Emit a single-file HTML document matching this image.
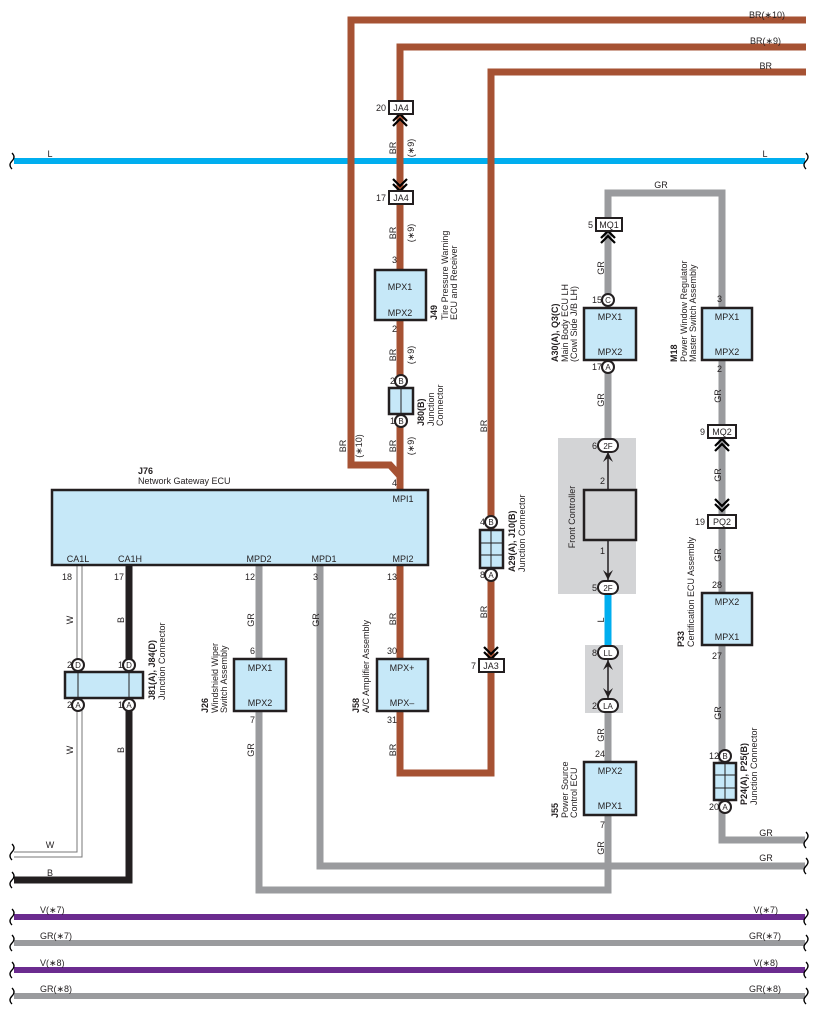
<!DOCTYPE html><html><head><style>body{margin:0;background:#fff}svg{display:block;font-family:"Liberation Sans",sans-serif}</style></head><body>
<svg width="817" height="1019" viewBox="0 0 817 1019" xmlns="http://www.w3.org/2000/svg">
<defs>
<g id="chev"><path d="M-7,4 L0,-3 L7,4 M-7,9 L0,2 L7,9" fill="none" stroke="#000" stroke-width="2.2"/></g>
</defs>
<!-- grey backgrounds -->
<rect x="558" y="438" width="78" height="156" fill="#d3d4d6"/>
<rect x="585" y="645" width="38" height="68" fill="#d3d4d6"/>
<!-- bottom buses -->
<g stroke-width="6" fill="none">
<line x1="14" y1="917" x2="805" y2="917" stroke="#6b2b8f"/>
<line x1="14" y1="943" x2="805" y2="943" stroke="#9a9b9e"/>
<line x1="14" y1="970" x2="805" y2="970" stroke="#6b2b8f"/>
<line x1="14" y1="996" x2="805" y2="996" stroke="#9a9b9e"/>
<line x1="14" y1="161" x2="805" y2="161" stroke="#00aeef"/>
</g>
<!-- GR wires -->
<g stroke="#9a9b9e" stroke-width="7" fill="none">
<path d="M259,565 V890 H608 V816"/>
<path d="M320,565 V866 H805"/>
<path d="M608,360 V445 M608,705 V762"/>
<path d="M608,224 V193 H722 V840 H805"/>
<path d="M608,224 V300"/>
</g>
<line x1="608" y1="594" x2="608" y2="652" stroke="#00aeef" stroke-width="7"/>
<!-- BR wires -->
<g stroke="#a65233" stroke-width="7" fill="none" stroke-linejoin="miter">
<path d="M806,20 H351 V465 H390 L400,476 V490"/>
<path d="M806,47 H400 V490"/>
<path d="M806,72 H491 V773 H400 V565"/>
</g>
<!-- W / B -->
<path d="M77,565 V852 H14 M82,565 V857 H14" stroke="#777" stroke-width="1" fill="none"/>
<path d="M129,565 V880 H14" stroke="#231f20" stroke-width="7" fill="none"/>
<!-- left/right break marks -->
<g stroke="#000" stroke-width="1.3" fill="none">
<path d="M12,153 q4,4 0,8 q-4,4 0,8"/><path d="M806,153 q4,4 0,8 q-4,4 0,8"/>
<path d="M12,844 q4,4 0,8 q-4,4 0,8"/><path d="M12,872 q4,4 0,8 q-4,4 0,8"/>
<path d="M806,832 q4,4 0,8 q-4,4 0,8"/><path d="M806,858 q4,4 0,8 q-4,4 0,8"/>
<path d="M12,909 q4,4 0,8 q-4,4 0,8"/><path d="M806,909 q4,4 0,8 q-4,4 0,8"/>
<path d="M12,935 q4,4 0,8 q-4,4 0,8"/><path d="M806,935 q4,4 0,8 q-4,4 0,8"/>
<path d="M12,962 q4,4 0,8 q-4,4 0,8"/><path d="M806,962 q4,4 0,8 q-4,4 0,8"/>
<path d="M12,988 q4,4 0,8 q-4,4 0,8"/><path d="M806,988 q4,4 0,8 q-4,4 0,8"/>
</g>
<!-- boxes -->
<g fill="#c6e8f8" stroke="#231f20" stroke-width="2.5">
<rect x="52" y="490" width="376" height="75"/>
<rect x="375" y="270" width="51" height="50"/>
<rect x="234" y="659" width="52" height="52"/>
<rect x="377" y="659" width="51" height="52"/>
<rect x="584" y="308" width="52" height="52"/>
<rect x="702" y="308" width="50" height="52"/>
<rect x="702" y="593" width="50" height="52"/>
<rect x="584" y="762" width="52" height="53"/>
<rect x="65" y="672" width="78" height="26"/>
<rect x="389" y="388" width="24" height="26"/>
<rect x="480" y="530" width="23" height="38"/>
<rect x="714" y="763" width="22" height="37"/>
</g>
<rect x="584" y="490" width="52" height="50" fill="#d3d4d6" stroke="#231f20" stroke-width="2.5"/>
<g stroke="#231f20" stroke-width="1" fill="none">
<line x1="78" y1="672" x2="78" y2="698"/><line x1="129" y1="672" x2="129" y2="698"/>
<line x1="401" y1="388" x2="401" y2="414"/>
<path d="M491,530 V568 M480,543 H503 M480,555 H503"/>
<path d="M725,763 V800 M714,775 H736 M714,788 H736"/>
</g>
<!-- arrows front controller -->
<g stroke="#231f20" stroke-width="1.5">
<line x1="608" y1="452" x2="608" y2="490"/><line x1="608" y1="540" x2="608" y2="580"/>
<line x1="608" y1="660" x2="608" y2="698"/></g>
<g fill="#231f20">
<path d="M603,462 L608,452 L613,462 L608,458Z"/><path d="M603,570 L608,580 L613,570 L608,574Z"/>
<path d="M603,670 L608,660 L613,670 L608,666Z"/><path d="M603,688 L608,698 L613,688 L608,692Z"/>
</g>
<!-- chevrons -->
<use href="#chev" x="400" y="117"/>
<g transform="translate(400,188) scale(1,-1)"><use href="#chev"/></g>
<use href="#chev" x="608" y="234"/>
<use href="#chev" x="722" y="442"/>
<g transform="translate(722,508) scale(1,-1)"><use href="#chev"/></g>
<g transform="translate(491,656) scale(1,-1)"><use href="#chev"/></g>
<!-- rect connectors -->
<g fill="#fff" stroke="#231f20" stroke-width="2">
<rect x="389" y="101" width="24" height="13"/><rect x="389" y="191" width="24" height="13"/>
<rect x="596" y="218" width="26" height="13"/><rect x="708" y="425" width="28" height="13"/>
<rect x="708" y="515" width="28" height="13"/><rect x="479" y="659" width="25" height="13"/>
<circle cx="78" cy="665" r="6"/><circle cx="129" cy="665" r="6"/><circle cx="78" cy="705" r="6"/><circle cx="129" cy="705" r="6"/>
<circle cx="401" cy="381" r="6"/><circle cx="401" cy="421" r="6"/>
<circle cx="491" cy="522" r="6"/><circle cx="491" cy="575" r="6"/>
<circle cx="608" cy="300" r="6"/><circle cx="608" cy="367" r="6"/>
<circle cx="725" cy="756" r="6"/><circle cx="725" cy="807" r="6"/>
<rect x="598" y="439" width="20" height="13" rx="6.5"/><rect x="598" y="581" width="20" height="13" rx="6.5"/>
<rect x="598" y="646" width="20" height="13" rx="6.5"/><rect x="598" y="699" width="20" height="13" rx="6.5"/>
</g>
<g font-size="9" fill="#231f20" text-anchor="middle">
<text x="401" y="111">JA4</text><text x="401" y="201">JA4</text><text x="609" y="228">MQ1</text>
<text x="722" y="435">MQ2</text><text x="722" y="525">PQ2</text><text x="491" y="669">JA3</text>
<g font-size="8"><text x="78" y="668">D</text><text x="129" y="668">D</text><text x="78" y="708">A</text><text x="129" y="708">A</text>
<text x="401" y="384">B</text><text x="401" y="424">B</text><text x="491" y="525">B</text><text x="491" y="578">A</text>
<text x="608" y="303">C</text><text x="608" y="370">A</text><text x="725" y="759">B</text><text x="725" y="810">A</text>
<text x="608" y="449">2F</text><text x="608" y="591">2F</text><text x="608" y="656">LL</text><text x="608" y="709">LA</text></g>
<text x="400" y="290">MPX1</text><text x="400" y="316">MPX2</text>
<text x="260" y="671">MPX1</text><text x="260" y="706">MPX2</text>
<text x="402" y="671">MPX+</text><text x="402" y="706">MPX–</text>
<text x="610" y="320">MPX1</text><text x="610" y="355">MPX2</text>
<text x="727" y="320">MPX1</text><text x="727" y="355">MPX2</text>
<text x="727" y="605">MPX2</text><text x="727" y="640">MPX1</text>
<text x="610" y="774">MPX2</text><text x="610" y="809">MPX1</text>
<text x="403" y="502">MPI1</text><text x="403" y="562">MPI2</text>
<text x="78" y="562">CA1L</text><text x="130" y="562">CA1H</text><text x="259" y="562">MPD2</text><text x="324" y="562">MPD1</text>
<text x="50" y="157">L</text><text x="765" y="157">L</text>
<text x="661" y="188">GR</text><text x="766" y="836">GR</text><text x="766" y="861">GR</text>
<text x="50" y="848">W</text><text x="50" y="876">B</text>
</g>
<g font-size="9" fill="#231f20" text-anchor="end">
<text x="785" y="18">BR(∗10)</text><text x="781" y="44">BR(∗9)</text><text x="772" y="69">BR</text>
<text x="778" y="913">V(∗7)</text><text x="781" y="939">GR(∗7)</text><text x="778" y="966">V(∗8)</text><text x="781" y="992">GR(∗8)</text>
<text x="386" y="111">20</text><text x="386" y="201">17</text><text x="593" y="228">5</text><text x="705" y="435">9</text><text x="705" y="525">19</text><text x="476" y="669">7</text>
<text x="72" y="668">2</text><text x="123" y="668">1</text><text x="72" y="708">2</text><text x="123" y="708">1</text>
<text x="395" y="384">2</text><text x="395" y="424">1</text><text x="485" y="525">4</text><text x="485" y="578">8</text>
<text x="602" y="303">15</text><text x="602" y="370">17</text><text x="719" y="759">12</text><text x="719" y="810">20</text>
<text x="597" y="449">6</text><text x="597" y="591">5</text><text x="597" y="656">8</text><text x="597" y="709">2</text>
<text x="397" y="263">3</text><text x="397" y="332">2</text><text x="397" y="486">4</text><text x="397" y="580">13</text>
<text x="397" y="654">30</text><text x="397" y="723">31</text><text x="255" y="654">6</text><text x="255" y="723">7</text>
<text x="72" y="580">18</text><text x="124" y="580">17</text><text x="255" y="580">12</text><text x="318" y="580">3</text>
<text x="605" y="484">2</text><text x="605" y="554">1</text><text x="722" y="302">3</text><text x="722" y="372">2</text>
<text x="722" y="588">28</text><text x="722" y="659">27</text><text x="605" y="757">24</text><text x="605" y="828">7</text>
</g>
<g font-size="9" fill="#231f20" text-anchor="middle">
<text transform="translate(396,148) rotate(-90)">BR</text><text transform="translate(414,148) rotate(-90)">(∗9)</text>
<text transform="translate(396,233) rotate(-90)">BR</text><text transform="translate(414,233) rotate(-90)">(∗9)</text>
<text transform="translate(396,355) rotate(-90)">BR</text><text transform="translate(414,355) rotate(-90)">(∗9)</text>
<text transform="translate(396,446) rotate(-90)">BR</text><text transform="translate(414,446) rotate(-90)">(∗9)</text>
<text transform="translate(346,446) rotate(-90)">BR</text><text transform="translate(362,446) rotate(-90)">(∗10)</text>
<text transform="translate(487,426) rotate(-90)">BR</text><text transform="translate(487,612) rotate(-90)">BR</text>
<text transform="translate(396,619) rotate(-90)">BR</text><text transform="translate(396,750) rotate(-90)">BR</text>
<text transform="translate(73,620) rotate(-90)">W</text><text transform="translate(124,620) rotate(-90)">B</text>
<text transform="translate(73,750) rotate(-90)">W</text><text transform="translate(124,750) rotate(-90)">B</text>
<text transform="translate(254,620) rotate(-90)">GR</text><text transform="translate(319,620) rotate(-90)">GR</text>
<text transform="translate(254,750) rotate(-90)">GR</text>
<text transform="translate(604,268) rotate(-90)">GR</text><text transform="translate(604,400) rotate(-90)">GR</text>
<text transform="translate(604,620) rotate(-90)">L</text><text transform="translate(604,735) rotate(-90)">GR</text>
<text transform="translate(604,848) rotate(-90)">GR</text>
<text transform="translate(721,396) rotate(-90)">GR</text><text transform="translate(721,475) rotate(-90)">GR</text>
<text transform="translate(721,555) rotate(-90)">GR</text><text transform="translate(721,713) rotate(-90)">GR</text>
<text transform="translate(575,517) rotate(-90)">Front Controller</text>
</g>
<g font-size="9" fill="#231f20">
<text x="138" y="474" font-weight="bold">J76</text><text x="138" y="484">Network Gateway ECU</text>
<text transform="translate(437,320) rotate(-90)"><tspan font-weight="bold">J49</tspan></text>
<text transform="translate(448,320) rotate(-90)">Tire Pressure Warning</text><text transform="translate(457,320) rotate(-90)">ECU and Receiver</text>
<text transform="translate(424,426) rotate(-90)" font-weight="bold">J80(B)</text>
<text transform="translate(434,426) rotate(-90)">Junction</text><text transform="translate(443,426) rotate(-90)">Connector</text>
<text transform="translate(515,572) rotate(-90)" font-weight="bold">A29(A), J10(B)</text>
<text transform="translate(525,572) rotate(-90)">Junction Connector</text>
<text transform="translate(155,700) rotate(-90)" font-weight="bold">J81(A), J84(D)</text>
<text transform="translate(165,700) rotate(-90)">Junction Connector</text>
<text transform="translate(208,713) rotate(-90)" font-weight="bold">J26</text>
<text transform="translate(218,713) rotate(-90)">Windshield Wiper</text><text transform="translate(227,713) rotate(-90)">Switch Assembly</text>
<text transform="translate(359,713) rotate(-90)" font-weight="bold">J58</text>
<text transform="translate(369,713) rotate(-90)">A/C Amplifier Assembly</text>
<text transform="translate(558,362) rotate(-90)" font-weight="bold">A30(A), Q3(C)</text>
<text transform="translate(568,362) rotate(-90)">Main Body ECU LH</text><text transform="translate(577,362) rotate(-90)">(Cowl Side J/B LH)</text>
<text transform="translate(677,362) rotate(-90)" font-weight="bold">M18</text>
<text transform="translate(687,362) rotate(-90)">Power Window Regulator</text><text transform="translate(696,362) rotate(-90)">Master Switch Assembly</text>
<text transform="translate(684,647) rotate(-90)" font-weight="bold">P33</text>
<text transform="translate(694,647) rotate(-90)">Certification ECU Assembly</text>
<text transform="translate(747,805) rotate(-90)" font-weight="bold">P24(A), P25(B)</text>
<text transform="translate(757,805) rotate(-90)">Junction Connector</text>
<text transform="translate(558,818) rotate(-90)" font-weight="bold">J55</text>
<text transform="translate(568,818) rotate(-90)">Power Source</text><text transform="translate(577,818) rotate(-90)">Control ECU</text>
<text x="40" y="913">V(∗7)</text><text x="40" y="939">GR(∗7)</text><text x="40" y="966">V(∗8)</text><text x="40" y="992">GR(∗8)</text>
</g>
</svg>
</body></html>
